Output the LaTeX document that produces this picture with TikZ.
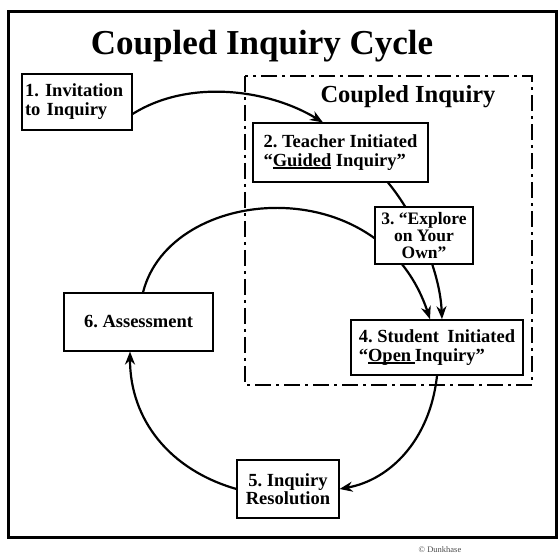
\documentclass[tikz,border=0pt]{standalone}
\usepackage{fontspec}
\setmainfont{Liberation Serif}
\usetikzlibrary{arrows.meta}
\pgfdeclarelayer{background}
\pgfsetlayers{background,main}

% heavy underline used for the emphasised words
\newcommand{\thickul}[1]{\leavevmode\setbox0\hbox{#1}\rlap{\rule[-2.8pt]{\wd0}{1.8pt}}\box0\relax}

\tikzset{
  stagebox/.style={draw=black, line width=1.1pt, fill=white, inner sep=0pt,
    font=\fontsize{18.5}{19}\selectfont\bfseries},
  cycleline/.style={line width=2.2pt, draw=black},
  cyclearrow/.style={cycleline, -{Stealth[length=13pt,width=10pt]}},
}

\begin{document}
\frenchspacing
\begin{tikzpicture}[x=1pt, y=-1pt]
\useasboundingbox (0,0) rectangle (558,556);

% outer frame
\draw[line width=3pt] (8,12) rectangle (556,538);

% title
\node[anchor=base, font=\fontsize{35}{38}\selectfont\bfseries] (title) at (262,55) {Coupled Inquiry Cycle};

% coupled inquiry region
\draw[line width=1.5pt, dash pattern=on 16pt off 5pt on 3pt off 5pt] (245,76) rectangle (532,385);
\node[anchor=base, font=\fontsize{24.5}{26}\selectfont\bfseries] (region) at (408,103) {Coupled Inquiry};

% stages
\node[stagebox, minimum width=110pt, minimum height=56pt, text width=104pt, align=left] (s1) at (77,102)
  {1. Invitation\\to Inquiry};
\node[stagebox, minimum width=175pt, minimum height=59pt, align=left] (s2) at (340.5,152.5)
  {2. Teacher Initiated\\“\thickul{Guided} Inquiry”};
\node[stagebox, line width=2pt, minimum width=98pt, minimum height=57pt, align=center,
  font=\fontsize{17.5}{17}\selectfont\bfseries] (s3) at (424,235.5)
  {3. “Explore\\on Your\\Own”};
\node[stagebox, line width=1.6pt, minimum width=172pt, minimum height=55pt, align=left] (s4) at (437,347.5)
  {4. Student\hspace{0.45em}Initiated\\“\thickul{Open\hspace{0.2em}}Inquiry”};
\node[stagebox, minimum width=102pt, minimum height=58pt, align=center,
  font=\fontsize{18.5}{17.5}\selectfont\bfseries] (s5) at (288,489)
  {5. Inquiry\\Resolution};
\node[stagebox, minimum width=149pt, minimum height=58pt] (s6) at (138.5,322)
  {6. Assessment};

% credit line
\node[anchor=base, font=\fontsize{8.5}{9}\selectfont, text=black!70] (credit) at (440,553) {© Dunkhase};

% connectors, kept behind the stage boxes
\begin{pgfonlayer}{background}
  \draw[cyclearrow] ([yshift=-12pt]s1.east) .. controls (190,78) and (270,90) .. ([xshift=-17.5pt]s2.north);
  \draw[cyclearrow] ([xshift=4.5pt]s6.north) .. controls (170,185) and (380,168) .. ([xshift=-7pt]s4.north);
  \draw[cyclearrow] ([xshift=47.5pt]s2.south) .. controls (415,215) and (440,270) .. ([xshift=5pt]s4.north);
  \draw[cyclearrow] (s4.south) .. controls (430,440) and (390,480) .. (s5.east);
  \draw[cyclearrow] (s5.west) .. controls (170,470) and (130,420) .. ([xshift=-8.5pt]s6.south);
\end{pgfonlayer}
\end{tikzpicture}
\end{document}
